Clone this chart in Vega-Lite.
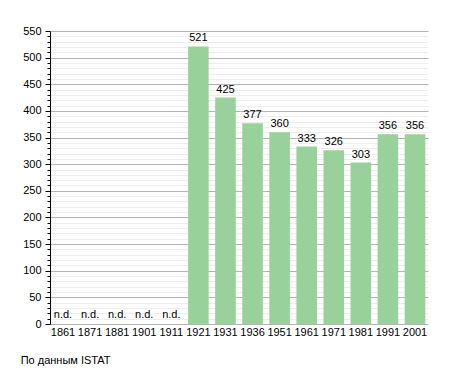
{
  "$schema": "https://vega.github.io/schema/vega-lite/v6.json",
  "width": 378,
  "height": 293,
  "autosize": {"type": "none"},
  "padding": {"left": 50, "top": 31, "right": 27, "bottom": 49},
  "background": "white",
  "config": {
    "font": "Liberation Sans",
    "view": {"stroke": null},
    "axis": {"labelFont": "Liberation Sans", "labelFontSize": 11, "labelColor": "#000"}
  },
  "title": {
    "text": "По данным ISTAT",
    "orient": "bottom",
    "anchor": "start",
    "frame": "bounds",
    "font": "Liberation Sans",
    "fontSize": 11,
    "fontWeight": "normal",
    "color": "#000",
    "dx": -2,
    "offset": 18
  },
  "resolve": {"axis": {"y": "independent"}},
  "data": {
    "values": [
      {"year": "1861", "pop": null},
      {"year": "1871", "pop": null},
      {"year": "1881", "pop": null},
      {"year": "1901", "pop": null},
      {"year": "1911", "pop": null},
      {"year": "1921", "pop": 521},
      {"year": "1931", "pop": 425},
      {"year": "1936", "pop": 377},
      {"year": "1951", "pop": 360},
      {"year": "1961", "pop": 333},
      {"year": "1971", "pop": 326},
      {"year": "1981", "pop": 303},
      {"year": "1991", "pop": 356},
      {"year": "2001", "pop": 356}
    ]
  },
  "encoding": {
    "x": {
      "field": "year",
      "type": "ordinal",
      "sort": ["1861","1871","1881","1901","1911","1921","1931","1936","1951","1961","1971","1981","1991","2001"],
      "scale": {"paddingInner": 0.24, "paddingOuter": 0.1},
      "axis": {"title": null, "labelAngle": 0, "ticks": false, "domain": false, "labelPadding": 2}
    }
  },
  "layer": [
    {
      "mark": {"type": "rule", "strokeWidth": 0},
      "encoding": {
        "y": {
          "field": "pop",
          "type": "quantitative",
          "scale": {"domain": [0, 550], "nice": false},
          "axis": {
            "title": null,
            "orient": "left",
            "values": [10,20,30,40,60,70,80,90,110,120,130,140,160,170,180,190,210,220,230,240,260,270,280,290,310,320,330,340,360,370,380,390,410,420,430,440,460,470,480,490,510,520,530,540],
            "labels": false,
            "domain": false,
            "grid": true,
            "gridColor": "#ededed",
            "gridWidth": 1,
            "tickColor": "#000",
            "tickSize": 3,
            "tickWidth": 1,
            "zindex": 0
          }
        }
      }
    },
    {
      "mark": {"type": "rule", "strokeWidth": 0},
      "encoding": {
        "y": {
          "field": "pop",
          "type": "quantitative",
          "axis": {
            "title": null,
            "orient": "left",
            "values": [0,50,100,150,200,250,300,350,400,450,500,550],
            "grid": true,
            "gridColor": "#b4b4b4",
            "gridWidth": 1,
            "domain": true,
            "domainColor": "#000",
            "domainWidth": 1,
            "tickColor": "#000",
            "tickSize": 5,
            "labelPadding": 4,
            "zindex": 0
          }
        }
      }
    },
    {
      "mark": {"type": "bar", "color": "#98d29a"},
      "encoding": {"y": {"field": "pop", "type": "quantitative", "axis": null}}
    },
    {
      "mark": {"type": "text", "baseline": "bottom", "dy": -3, "fontSize": 11, "color": "#000"},
      "encoding": {
        "y": {"field": "pop", "type": "quantitative", "axis": null},
        "text": {"field": "pop", "type": "quantitative"}
      }
    },
    {
      "transform": [{"filter": "datum.pop === null"}, {"calculate": "0", "as": "zero"}, {"calculate": "'n.d.'", "as": "lbl"}],
      "mark": {"type": "text", "baseline": "bottom", "dy": -4, "fontSize": 11, "color": "#000"},
      "encoding": {
        "y": {"field": "zero", "type": "quantitative", "axis": null},
        "text": {"field": "lbl"}
      }
    },
    {
      "mark": {"type": "rule", "color": "#000", "strokeWidth": 1},
      "encoding": {"y": {"datum": 0, "axis": null}}
    }
  ]
}
